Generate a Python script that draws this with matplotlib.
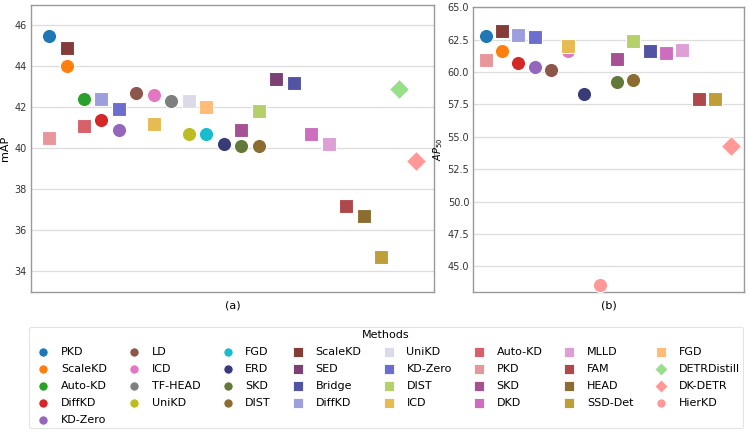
import numpy as np
import matplotlib
matplotlib.use("Agg")
import matplotlib.pyplot as plt

# legend entries (order as in the legend)
labels = ["PKD", "ScaleKD", "Auto-KD", "DiffKD", "KD-Zero", "LD", "ICD", "TF-HEAD",
          "UniKD", "FGD", "ERD", "SKD", "DIST",
          "ScaleKD", "SED", "Bridge", "DiffKD", "UniKD", "KD-Zero", "DIST", "ICD",
          "Auto-KD", "PKD", "SKD", "DKD", "MLLD", "FAM", "HEAD", "SSD-Det", "FGD",
          "DETRDistill", "DK-DETR", "HierKD"]
markers = ["o"] * 13 + ["s"] * 17 + ["D", "D", "o"]
colors = ["#1f77b4", "#ff7f0e", "#2ca02c", "#d62728", "#9467bd", "#8c564b", "#e377c2",
          "#7f7f7f", "#bcbd22", "#17becf", "#393b79", "#637939", "#8c6d31",
          "#843c39", "#7b4173", "#5254a3", "#9c9ede", "#dadaeb", "#6b6ecf", "#b5cf6b",
          "#e7ba52", "#d6616b", "#e7969c", "#a55194", "#ce6dbd", "#de9ed6", "#ad494a",
          "#8c6d31", "#bd9e39", "#ffbb78",
          "#98df8a", "#ff9896", "#ff9896"]

nan = np.nan
# (a) mAP
map_vals = [45.5, 44.0, 42.4, 41.4, 40.9, 42.7, 42.6, 42.3, 40.7, 40.7, 40.2, 40.1, 40.1,
            44.9, 43.4, 43.2, 42.4, 42.3, 41.9, 41.8, 41.2, 41.1, 40.5, 40.9, 40.7,
            40.2, 37.2, 36.7, 34.7, 42.0,
            42.9, 39.4, nan]
# (b) AP50
ap50_vals = [62.8, 61.6, nan, 60.7, 60.4, 60.2, 61.6, nan, nan, nan, 58.3, 59.2, 59.4,
             63.2, nan, 61.6, 62.9, nan, 62.7, 62.4, 62.0, nan, 60.9, 61.0, 61.5,
             61.7, 57.9, nan, 57.9, nan,
             nan, 54.3, 43.6]

cats_a = ["PKD", "ScaleKD", "Auto-KD", "DiffKD", "KD-Zero", "LD", "ICD", "TF-HEAD",
          "UniKD", "FGD", "ERD", "SKD", "DIST", "SED", "Bridge", "DKD", "MLLD", "FAM",
          "HEAD", "SSD-Det", "DETRDistill", "DK-DETR"]
cats_b = ["PKD", "ScaleKD", "DiffKD", "KD-Zero", "LD", "ICD", "ERD", "HierKD", "SKD",
          "DIST", "Bridge", "DKD", "MLLD", "FAM", "SSD-Det", "DK-DETR"]

sizes = {"o": 105, "s": 95, "D": 105}

fig = plt.figure(figsize=(7.49, 4.33), dpi=100)
ax_a = fig.add_axes([0.041, 0.326, 0.539, 0.663])
ax_b = fig.add_axes([0.632, 0.325, 0.361, 0.658])


def draw(ax, vals, cats):
    handles = []
    for i, lab in enumerate(labels):
        v = vals[i]
        h = ax.scatter([], [], s=sizes[markers[i]] * (1.3 if markers[i] == "s" else 1.0),
                       marker=markers[i], color=colors[i],
                       edgecolor="white", linewidth=0.6, label=lab)
        if not np.isnan(v):
            ax.scatter([cats.index(lab)], [v], s=sizes[markers[i]], marker=markers[i],
                       color=colors[i], edgecolor="white", linewidth=0.8, zorder=3)
        handles.append(h)
    ax.set_xlim(-0.05 * (len(cats) - 1), (len(cats) - 1) * 1.05)
    ax.set_xticks([])
    ax.grid(axis="y", color="#dddddd", linewidth=0.9)
    ax.set_axisbelow(True)
    for sp in ax.spines.values():
        sp.set_color("#999999")
        sp.set_linewidth(1.0)
    ax.tick_params(axis="y", length=0, labelsize=7, colors="#333333", pad=3)
    return handles


handles = draw(ax_a, map_vals, cats_a)
ax_a.set_ylim(33, 47)
ax_a.set_yticks([34, 36, 38, 40, 42, 44, 46])
ax_a.set_ylabel("mAP", fontsize=8, labelpad=3)
ax_a.set_xlabel("(a)", fontsize=8, labelpad=6)

draw(ax_b, ap50_vals, cats_b)
ax_b.set_ylim(43, 65)
ax_b.set_yticks([45, 47.5, 50, 52.5, 55, 57.5, 60, 62.5, 65])
ax_b.set_yticklabels(["45.0", "47.5", "50.0", "52.5", "55.0", "57.5", "60.0", "62.5", "65.0"])
ax_b.set_ylabel("$AP_{50}$", fontsize=7, labelpad=2)
ax_b.set_xlabel("(b)", fontsize=8, labelpad=6)

leg = fig.legend(handles=handles, loc="upper left", ncol=8, mode="expand",
                 bbox_to_anchor=(0.0387, 0.01, 0.9533, 0.2348), borderaxespad=0,
                 fontsize=8, title="Methods", title_fontsize=8, frameon=True,
                 markerscale=0.65, handletextpad=0.6, labelspacing=0.62, borderpad=0.3)
leg.get_frame().set_edgecolor("#dddddd")
leg.get_frame().set_linewidth(0.8)

fig.savefig("out.png", dpi=100)
